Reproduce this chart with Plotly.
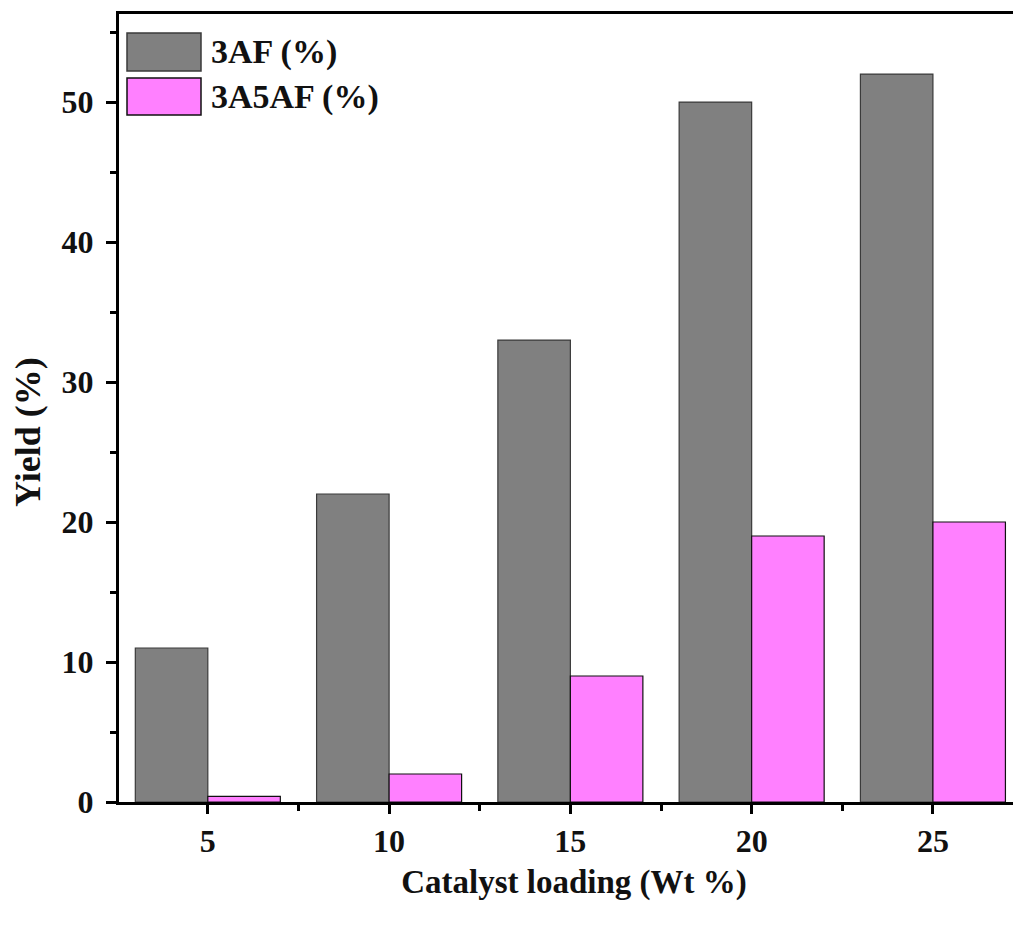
import plotly.graph_objects as go

loading = [5, 10, 15, 20, 25]
yield_3af = [11, 22, 33, 50, 52]
yield_3a5af = [0.4, 2, 9, 19, 20]
series_names = ["3AF (%)", "3A5AF (%)"]
series_colors = ["#808080", "#FF80FF"]
series_edges = ["#3a3a3a", "#111111"]

FONT = "Liberation Serif"

fig = go.Figure()
for name, vals, col, edge in zip(series_names, [yield_3af, yield_3a5af], series_colors, series_edges):
    fig.add_trace(go.Bar(x=loading, y=vals, name=name, marker=dict(color=col, line=dict(color=edge, width=1.2)),
                         showlegend=False))

# page is rendered with an 8px body margin; coordinates below are figure pixels
OFF = 8
L, T, B, W, H = 111, 6, 132, 1021, 926
pw = W - L
ph = H - T - B

def px_x(px):
    return (px - OFF - L) / pw

def px_y(py):
    return (H - B - (py - OFF)) / ph

# manual legend (large swatches as in reference), positions in page pixels
legend_rows = [(33, 71), (78, 115)]
for (y0, y1), name, col, edge in zip(legend_rows, series_names, series_colors, series_edges):
    fig.add_shape(type="rect", xref="paper", yref="paper", x0=px_x(127), x1=px_x(201), y0=px_y(y1), y1=px_y(y0),
                  fillcolor=col, line=dict(color=edge, width=1.5))
    fig.add_annotation(xref="paper", yref="paper", x=px_x(209), y=px_y((y0 + y1) / 2), text="<b>%s</b>" % name,
                       showarrow=False, xanchor="left", yanchor="middle",
                       font=dict(family=FONT, size=34, color="#111"))

# y-axis title as annotation (placed as in reference)
fig.add_annotation(xref="paper", yref="paper", x=px_x(28), y=px_y(432), text="<b>Yield (%)</b>",
                   textangle=-90, showarrow=False, xanchor="center", yanchor="middle",
                   font=dict(family=FONT, size=36, color="#111"))

fig.update_layout(
    width=W, height=H,
    margin=dict(l=L, r=0, t=T, b=B),
    paper_bgcolor="white", plot_bgcolor="white",
    barmode="group", bargap=0.2, bargroupgap=0,
    font=dict(family=FONT, color="#111"),
)
fig.update_xaxes(
    range=[2.55, 27.65], tickmode="linear", tick0=0, dtick=5,
    showline=True, linecolor="black", linewidth=3, mirror=True,
    ticks="outside", ticklen=9, tickwidth=3, tickcolor="black",
    minor=dict(dtick=2.5, tick0=0, ticks="outside", ticklen=6, tickwidth=3, tickcolor="black"),
    showgrid=False, zeroline=False,
    tickfont=dict(family=FONT, size=32, color="#111"),
    tickprefix="<b>", ticksuffix="</b>",
    title=dict(text="<b>Catalyst loading (Wt %)</b>", font=dict(family=FONT, size=33, color="#111"), standoff=12),
)
fig.update_yaxes(
    range=[0, 56.29], tickmode="linear", tick0=0, dtick=10,
    showline=True, linecolor="black", linewidth=3,
    ticks="outside", ticklen=10, tickwidth=3, tickcolor="black",
    minor=dict(dtick=5, tick0=0, ticks="outside", ticklen=6, tickwidth=3, tickcolor="black"),
    showgrid=False, zeroline=False,
    tickfont=dict(family=FONT, size=32, color="#111"),
    tickprefix="<b>", ticksuffix="</b>",
    ticklabelstandoff=6,
)

fig.write_html("out.html")
